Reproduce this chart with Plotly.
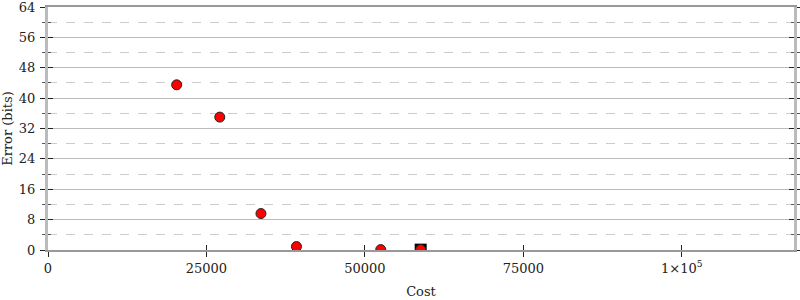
import plotly.graph_objects as go

# Data
cost = [20300, 27100, 33600, 39200, 52500, 58800]
error_bits = [43.5, 35.0, 9.6, 0.9, 0.1, 0.1]
best_cost = [58800]
best_error = [0.1]

x_tickvals = [0, 25000, 50000, 75000, 100000]
x_ticktext = ["0", "25000", "50000", "75000", "1×10<sup>5</sup>"]
y_tickvals = [0, 8, 16, 24, 32, 40, 48, 56, 64]

FONT = "DejaVu Serif"
x_range = [0, 117700]
y_range = [0, 64]

fig = go.Figure()
fig.add_trace(go.Scatter(
    x=best_cost, y=best_error, mode="markers",
    marker=dict(symbol="square", size=12, color="black"),
    showlegend=False, hoverinfo="skip"))
fig.add_trace(go.Scatter(
    x=cost, y=error_bits, mode="markers",
    marker=dict(symbol="circle", size=10, color="#ff0000",
                line=dict(color="#222222", width=1)),
    showlegend=False))
# invisible trace to activate the overlay axes (inside ticks)
fig.add_trace(go.Scatter(x=[None], y=[None], xaxis="x2", yaxis="y2",
                         showlegend=False, hoverinfo="skip"))

fig.update_layout(
    width=800, height=300,
    margin=dict(l=48, r=6, t=7, b=50, autoexpand=False),
    paper_bgcolor="white", plot_bgcolor="white",
    font=dict(family=FONT, size=13, color="#222222"),
    xaxis=dict(
        range=x_range, tickvals=x_tickvals, ticktext=x_ticktext,
        automargin=False, ticklabeloverflow="allow",
        showgrid=False, zeroline=False,
        showline=True, linecolor="#999999", linewidth=2, mirror=True,
        ticks="outside", ticklen=5, tickcolor="#222222", tickwidth=1,
        title=dict(text="Cost", standoff=12, font=dict(size=13)),
    ),
    yaxis=dict(
        range=y_range, tickvals=y_tickvals,
        automargin=False, ticklabeloverflow="allow",
        showgrid=True, gridcolor="#bbbbbb", gridwidth=1, zeroline=False,
        showline=True, linecolor="#bbbbbb", linewidth=3, mirror="ticks",
        ticks="outside", ticklen=5, tickcolor="#222222", tickwidth=1,
        ticklabelstandoff=2,
        minor=dict(dtick=4, tick0=0, ticks="outside", ticklen=3,
                   tickcolor="#555555", showgrid=True, gridcolor="#cccccc",
                   griddash="dash", gridwidth=1),
        title=dict(text="Error (bits)", standoff=8, font=dict(size=13)),
    ),
    xaxis2=dict(
        overlaying="x", matches="x", anchor="y2", side="bottom",
        range=x_range, tickvals=x_tickvals, showticklabels=False,
        automargin=False,
        showgrid=False, zeroline=False, showline=False,
        ticks="inside", ticklen=5, tickcolor="#222222", tickwidth=1,
    ),
    yaxis2=dict(
        overlaying="y", matches="y", anchor="x2", side="left",
        range=y_range, tickvals=y_tickvals, showticklabels=False,
        automargin=False,
        showgrid=False, zeroline=False, showline=False, mirror="ticks",
        ticks="inside", ticklen=5, tickcolor="#222222", tickwidth=1,
        minor=dict(dtick=4, tick0=0, ticks="inside", ticklen=3,
                   tickcolor="#555555", showgrid=False),
    ),
)

fig.write_html("out.html")
